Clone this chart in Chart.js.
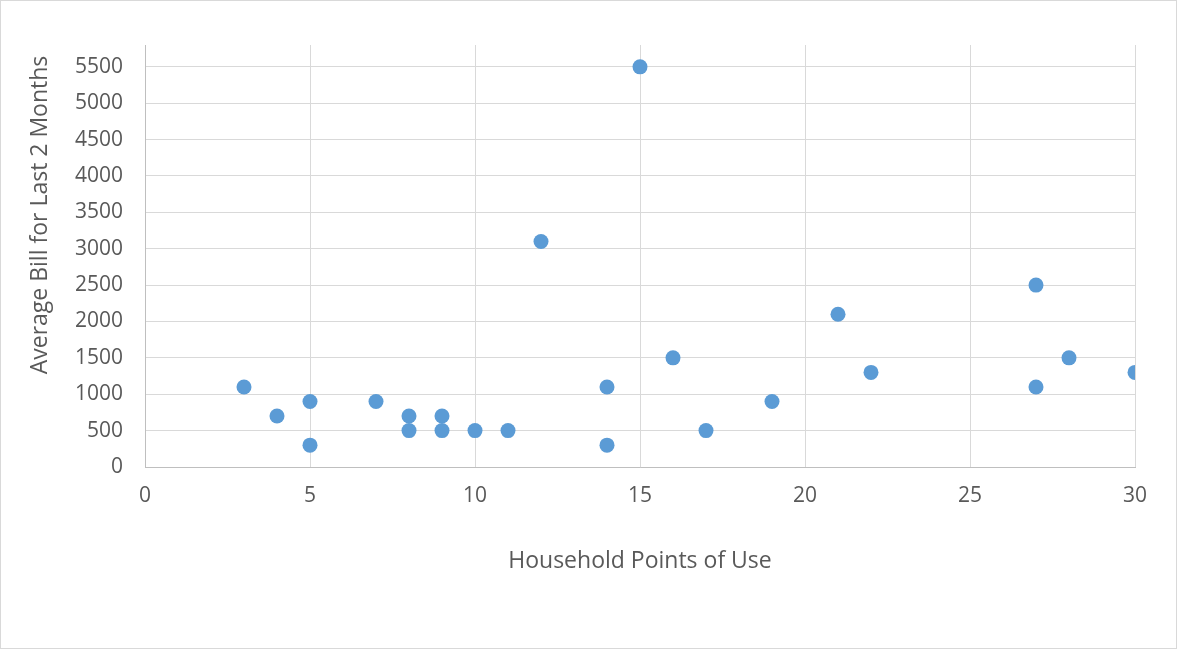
<!DOCTYPE html>
<html>
<head>
<meta charset="utf-8">
<script src="https://cdn.jsdelivr.net/npm/chart.js@4/dist/chart.umd.min.js"></script>
<style>
html,body{margin:0;padding:0;background:#fff;}
#wrap{width:1177px;height:649px;position:relative;}
</style>
</head>
<body>
<div id="wrap"><canvas id="c" width="1177" height="649"></canvas></div>
<script>
const pointsOfUse = [3, 4, 5, 5, 7, 8, 8, 9, 9, 10, 11, 12, 14, 14, 15, 16, 17, 19, 21, 22, 27, 27, 28, 30];
const averageBill = [1100, 700, 900, 300, 900, 700, 500, 700, 500, 500, 500, 3100, 1100, 300, 5500, 1500, 500, 900, 2100, 1300, 2500, 1100, 1500, 1300];
const xTickValues = [0, 5, 10, 15, 20, 25, 30];
const yTickValues = [0, 500, 1000, 1500, 2000, 2500, 3000, 3500, 4000, 4500, 5000, 5500];
const xTitle = 'Household Points of Use';
const yTitle = 'Average Bill for Last 2 Months';

const pts = pointsOfUse.map((x, i) => ({x: x, y: averageBill[i]}));
const textColor = '#595959';
const fontFam = '"Open Sans", sans-serif';

const frame = {
  id: 'frame',
  beforeDraw(chart) {
    const ctx = chart.ctx;
    ctx.save();
    ctx.fillStyle = '#fff';
    ctx.fillRect(0, 0, chart.width, chart.height);
    ctx.strokeStyle = '#D9D9D9';
    ctx.lineWidth = 1;
    ctx.strokeRect(0.5, 0.5, chart.width - 1, chart.height - 1);
    ctx.restore();
  },
  afterDraw(chart) {
    const ctx = chart.ctx;
    ctx.save();
    ctx.translate(40, 215);
    ctx.rotate(-Math.PI / 2);
    ctx.fillStyle = textColor;
    ctx.font = '23px ' + fontFam;
    ctx.textAlign = 'center';
    ctx.textBaseline = 'middle';
    ctx.fillText(yTitle, 0, 0);
    ctx.restore();
  }
};

new Chart(document.getElementById('c'), {
  type: 'scatter',
  data: {
    datasets: [{
      data: pts,
      backgroundColor: '#5B9BD5',
      borderColor: '#5B9BD5',
      pointRadius: 7.5,
      pointHoverRadius: 7.5,
      borderWidth: 0
    }]
  },
  options: {
    responsive: false,
    animation: false,
    devicePixelRatio: 1,
    layout: {padding: {left: 22, right: 42, top: 45, bottom: 70}},
    plugins: {legend: {display: false}, tooltip: {enabled: false}},
    scales: {
      x: {
        type: 'linear',
        min: 0, max: 30,
        afterBuildTicks(scale) { scale.ticks = xTickValues.map(v => ({value: v})); },
        ticks: {color: textColor, font: {family: fontFam, size: 21}, padding: 16, callback: v => String(v)},
        grid: {color: '#D9D9D9', drawTicks: false, lineWidth: 1},
        border: {color: '#BFBFBF', width: 1},
        title: {display: true, text: xTitle, color: textColor, font: {family: fontFam, size: 23}, padding: 4},
        afterFit(scale) { scale.height = 112; }
      },
      y: {
        type: 'linear',
        min: 0, max: 5800,
        afterBuildTicks(scale) { scale.ticks = yTickValues.map(v => ({value: v})); },
        ticks: {color: textColor, font: {family: fontFam, size: 21}, padding: 22, callback: v => String(v)},
        grid: {color: '#D9D9D9', drawTicks: false, lineWidth: 1},
        border: {color: '#BFBFBF', width: 1},
        title: {display: false, text: yTitle},
        afterFit(scale) { scale.width = 123; }
      }
    }
  },
  plugins: [frame]
});
</script>
</body>
</html>
